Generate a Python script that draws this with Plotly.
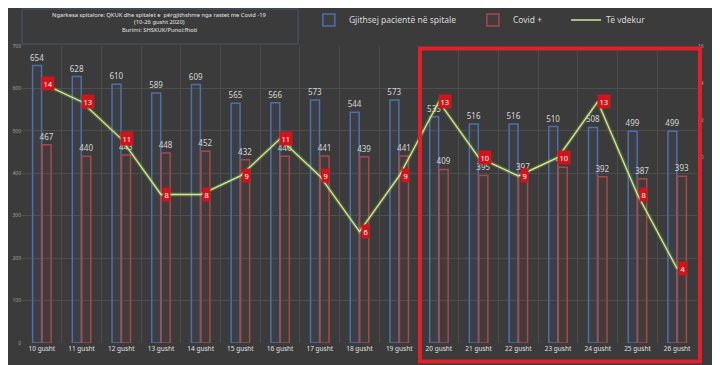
import plotly.graph_objects as go

dates = ["10 gusht", "11 gusht", "12 gusht", "13 gusht", "14 gusht", "15 gusht", "16 gusht",
         "17 gusht", "18 gusht", "19 gusht", "20 gusht", "21 gusht", "22 gusht", "23 gusht",
         "24 gusht", "25 gusht", "26 gusht"]
total_patients = [654, 628, 610, 589, 609, 565, 566, 573, 544, 573, 533, 516, 516, 510, 508, 499, 499]
covid_positive = [467, 440, 443, 448, 452, 432, 440, 441, 439, 441, 409, 395, 397, 414, 392, 387, 393]
deaths = [14, 13, 11, 8, 8, 9, 11, 9, 6, 9, 13, 10, 9, 10, 13, 8, 4]

left_ticks = [0, 100, 200, 300, 400, 500, 600, 700]
right_ticks = [0, 2, 4, 6, 8, 10, 12, 14, 16]

title_lines = ["Ngarkesa spitalore: QKUK dhe spitalet e  përgjithshme nga rastet me Covid -19",
               "(10-26 gusht 2020)",
               "Burimi: SHSKUK/Punoi:fhoti"]

BG = "#3b3b3b"
FONT = "Noto Sans"

fig = go.Figure()

fig.add_trace(go.Bar(
    x=dates, y=total_patients, name="Gjithsej pacientë në spitale",
    marker=dict(color="rgba(79,115,176,0.06)", line=dict(color="#4d70ad", width=1.5)),
    text=total_patients, textposition="outside", constraintext="none", cliponaxis=False,
    textfont=dict(color="#d6d6d6", size=8, family=FONT),
    legend="legend",
))
fig.add_trace(go.Bar(
    x=dates, y=covid_positive, name="Covid +",
    marker=dict(color="rgba(176,74,74,0.06)", line=dict(color="#a94848", width=1.5)),
    text=covid_positive, textposition="outside", constraintext="none", cliponaxis=False,
    textfont=dict(color="#d6d6d6", size=8, family=FONT),
    legend="legend2",
))
# glow under the line
fig.add_trace(go.Scatter(
    x=dates, y=deaths, yaxis="y2", mode="lines", showlegend=False, hoverinfo="skip",
    line=dict(color="rgba(150,200,60,0.28)", width=4),
))
fig.add_trace(go.Scatter(
    x=dates, y=deaths, yaxis="y2", mode="lines", name="Të vdekur",
    line=dict(color="#d4e89a", width=1.3),
    legend="legend3",
))

for d, v in zip(dates, deaths):
    fig.add_annotation(
        x=d, y=v, xref="x", yref="y2", text=str(v), showarrow=False, xshift=6,
        bgcolor="#d0141a", borderpad=1.5, font=dict(color="white", size=7.5, family=FONT),
    )

# title box
fig.add_shape(type="rect", xref="paper", yref="paper", x0=0.0, x1=0.409,
              y0=(343 - 44) / 297, y1=(343 - 9) / 297,
              line=dict(color="#4b5575", width=1), fillcolor="rgba(0,0,0,0)", layer="above")
for line, py in zip(title_lines, [15, 22.5, 30]):
    fig.add_annotation(xref="paper", yref="paper", x=0.204, y=(343 - py) / 297, text=line,
                       showarrow=False, font=dict(color="#e6e6e6", size=5.8, family=FONT),
                       yanchor="middle", xanchor="center")

# red highlight box
fig.add_shape(type="rect", xref="paper", yref="paper", x0=0.5896, x1=1.0044, y0=-0.0623, y1=0.9916,
              line=dict(color="#e0202a", width=4), fillcolor="rgba(0,0,0,0)", layer="above")

legend_common = dict(orientation="h", yanchor="middle", xanchor="left", y=1.0875,
                     bgcolor="rgba(0,0,0,0)", font=dict(color="#d9d9d9", size=8.5, family=FONT))

fig.update_layout(
    width=712, height=357,
    margin=dict(l=14, r=23, t=38, b=22, autoexpand=False),
    paper_bgcolor=BG, plot_bgcolor=BG,
    barmode="group", bargap=0.52, bargroupgap=0.06,
    font=dict(family=FONT, color="#cccccc"),
    legend=dict(x=0.425, **legend_common),
    legend2=dict(x=0.668, **legend_common),
    legend3=dict(x=0.806, **legend_common),
    xaxis=dict(type="category", tickson="boundaries", showgrid=True, gridcolor="#4c4c4c",
               gridwidth=1, ticks="", tickfont=dict(size=6.5, color="#e0e0e0", family=FONT),
               showline=False, zeroline=False),
    yaxis=dict(range=[0, 700], tickvals=left_ticks, showgrid=True, gridcolor="#4e4e4e",
               tickfont=dict(size=5, color="#a0a0a0"), zeroline=False, ticks=""),
    yaxis2=dict(range=[0, 16], tickvals=right_ticks, overlaying="y", side="right", showgrid=False,
                tickfont=dict(size=5, color="#a0a0a0"), zeroline=False, ticks=""),
)

fig.write_html("out.html")
